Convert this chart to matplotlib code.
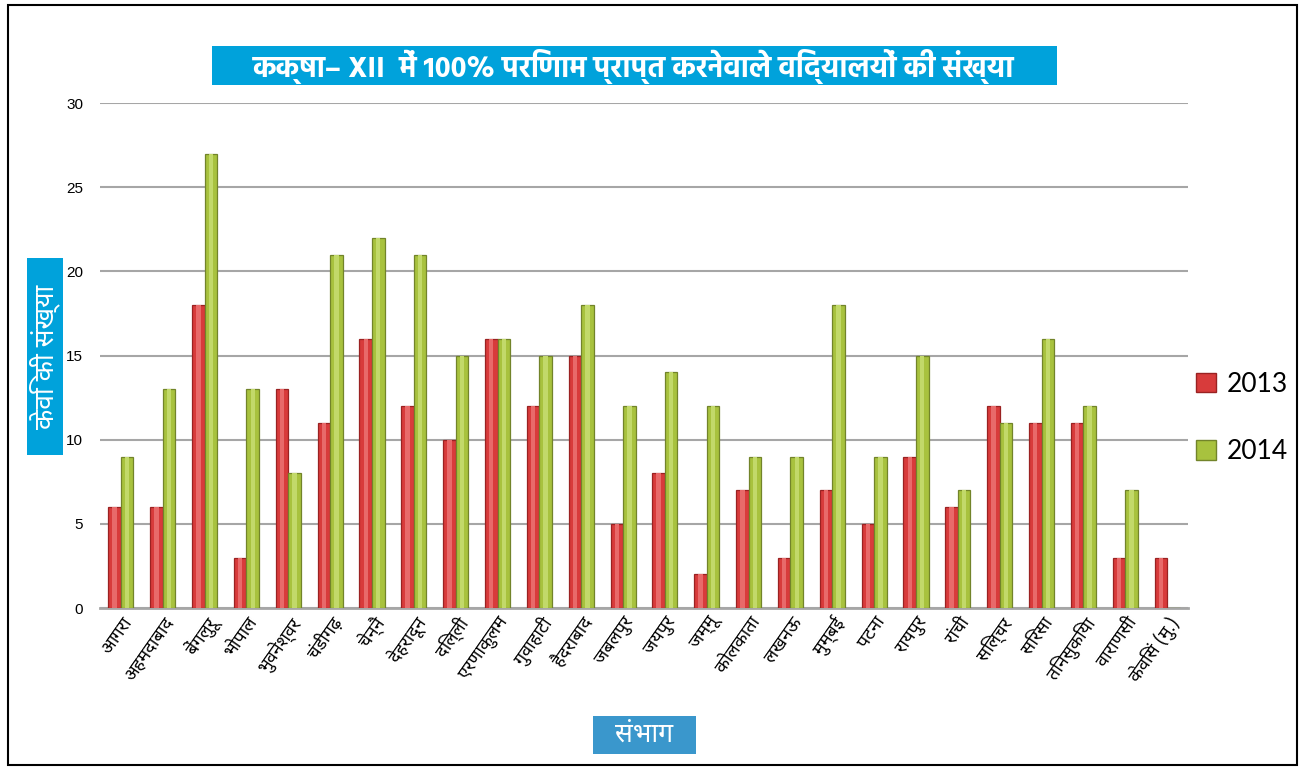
import os
import matplotlib
matplotlib.use("Agg")
import matplotlib.pyplot as plt
from matplotlib import font_manager as fm
from matplotlib.patches import Patch
import numpy as np

# ---------------- data ----------------
categories = ['आगरा', 'अहमदाबाद', 'बेंगलुरू', 'भोपाल', 'भुवनेश्वर', 'चंडीगढ़', 'चेन्नै',
              'देहरादून', 'दिल्ली', 'एरणाकुलम', 'गुवाहाटी', 'हैदराबाद', 'जबलपुर', 'जयपुर',
              'जम्मू', 'कोलकाता', 'लखनऊ', 'मुम्बई', 'पटना', 'रायपुर', 'रांची', 'सिल्चर',
              'सिरसा', 'तिनसुकिया', 'वाराणसी', 'केविसं (मु.)']
v2013 = [6, 6, 18, 3, 13, 11, 16, 12, 10, 16, 12, 15, 5, 8, 2, 7, 3, 7, 5, 9, 6, 12, 11, 11, 3, 3]
v2014 = [9, 13, 27, 13, 8, 21, 22, 21, 15, 16, 15, 18, 12, 14, 12, 9, 9, 18, 9, 15, 7, 11, 16, 12, 7, 0]
series_names = ['2013', '2014']
yticks = [0, 5, 10, 15, 20, 25, 30]
title = 'कक्षा– XII  में 100% परिणाम प्राप्त करनेवाले विद्यालयों की संख्या'
ylabel = 'केवि की संख्या'
xlabel = 'संभाग'

# ---------------- fonts ----------------
allfonts = {os.path.basename(p): p for p in fm.findSystemFonts()}


def pick(prefs):
    for pref in prefs:
        for name, path in sorted(allfonts.items()):
            if name.startswith(pref):
                try:
                    fm.fontManager.addfont(path)
                    return fm.FontProperties(fname=path).get_name()
                except Exception:
                    pass
    return None


deva = pick(['NotoSansDevanagari-Regular', 'NotoSansDevanagari[', 'NotoSansDevanagari',
             'Hind-Regular', 'Mukta-Regular', 'FreeSans.ttf'])
deva_title = pick(['NotoSansDevanagari_Condensed-Bold', 'NotoSansDevanagari-Bold',
                   'Hind-SemiBold', 'FreeSansBold.ttf']) or deva
fam_lbl = [f for f in [deva, 'DejaVu Sans'] if f]
fam_title = [f for f in [deva_title, deva, 'DejaVu Sans'] if f]
plt.rcParams['font.family'] = fam_lbl

W, H = 1299, 770
fig = plt.figure(figsize=(W / 100, H / 100), dpi=100)
ax = fig.add_axes([100 / W, 1 - 608 / H, 1088 / W, 505 / H])

RED, RED_E, RED_L = '#d83b3b', '#9a2222', '#e86a6a'
GRN, GRN_E, GRN_L = '#a8c23e', '#72842a', '#c2d96a'

x = np.arange(len(categories))
bw = 0.3
ax.bar(x - bw / 2, v2013, bw, color=RED, edgecolor=RED_E, linewidth=0.9, zorder=3)
ax.bar(x + bw / 2, v2014, bw, color=GRN, edgecolor=GRN_E, linewidth=0.9, zorder=3)
# light bevel highlight in the middle of each bar
ax.bar(x - bw / 2, v2013, bw * 0.35, color=RED_L, linewidth=0, zorder=4)
ax.bar(x + bw / 2, v2014, bw * 0.35, color=GRN_L, linewidth=0, zorder=4)

ax.set_xlim(-0.5, len(categories) - 0.5)
ax.set_ylim(0, 30)
ax.set_yticks(yticks)
ax.yaxis.grid(True, color='#a6a6a6', linewidth=1.5, zorder=0)
ax.set_axisbelow(True)
for s in ['top', 'right', 'left']:
    ax.spines[s].set_visible(False)
ax.spines['bottom'].set_color('#a6a6a6')
ax.spines['bottom'].set_linewidth(2)
ax.tick_params(axis='y', length=0, labelsize=11, pad=12)
for lab in ax.get_yticklabels():
    lab.set_family('Liberation Sans')
ax.tick_params(axis='x', length=0, labelsize=13, pad=4)
ax.set_xticks(x)
ax.set_xticklabels(categories, rotation=55, ha='right', rotation_mode='anchor')

# frame
fig.patches.append(plt.Rectangle((8 / W, 5 / H), 1289 / W, 760 / H, transform=fig.transFigure,
                                 fill=False, edgecolor='black', linewidth=1.5))


def box(x0, y0, x1, y1, color):
    fig.patches.append(plt.Rectangle((x0 / W, 1 - y1 / H), (x1 - x0) / W, (y1 - y0) / H,
                                     transform=fig.transFigure, facecolor=color,
                                     edgecolor='none'))


box(212, 46, 1057, 85, '#00a2db')
fig.text(634 / W, 1 - 66 / H, title, ha='center', va='center', color='white', fontsize=21,
         family=fam_title, fontweight='bold')
box(27, 258, 63, 455, '#00a2db')
fig.text(45 / W, 1 - 357 / H, ylabel, rotation=90, ha='center', va='center',
         color='white', fontsize=19)
box(593, 716, 696, 754, '#3a97cc')
fig.text(644 / W, 1 - 735 / H, xlabel, ha='center', va='center', color='white', fontsize=19)

handles = [Patch(facecolor=RED, edgecolor=RED_E), Patch(facecolor=GRN, edgecolor=GRN_E)]
fig.legend(handles, series_names, loc='center left', bbox_to_anchor=(1196 / W, 1 - 418 / H),
           frameon=False, prop={'family': 'Lato', 'size': 19}, handlelength=0.75,
           handleheight=0.75, labelspacing=1.6, handletextpad=0.4, borderpad=0, borderaxespad=0)

fig.savefig('out.png', dpi=100)
